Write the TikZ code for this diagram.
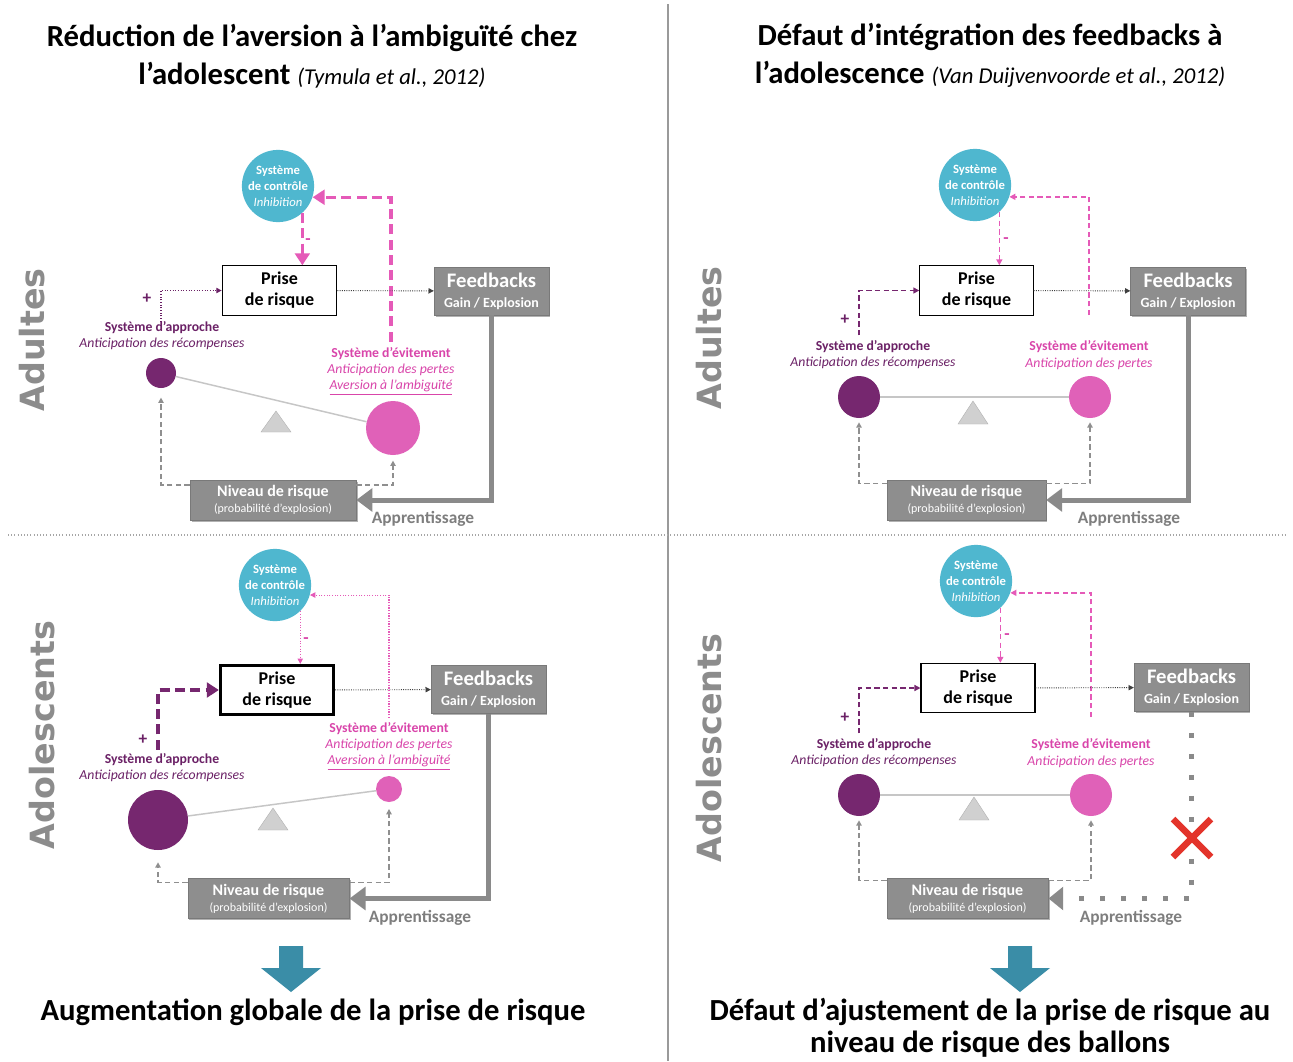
\documentclass[tikz,border=0pt]{standalone}
\usepackage{fontspec}
\setmainfont{Carlito}
\newfontfamily\sidefont{DejaVu Sans}
\usetikzlibrary{arrows.meta,shadows,calc}
\definecolor{ctrlblue}{HTML}{4FB7CF}
\definecolor{apprcol}{HTML}{76276F}
\definecolor{apprtext}{HTML}{6B2166}
\definecolor{avoidcol}{HTML}{E061B8}
\definecolor{avoidtext}{HTML}{D945AA}
\definecolor{pinkline}{HTML}{E55AB8}
\definecolor{boxgray}{HTML}{8E8E8E}
\definecolor{arrgray}{HTML}{8A8A8A}
\definecolor{labgray}{HTML}{7E7E7E}
\definecolor{sidegray}{HTML}{8C8C8C}
\definecolor{dashgray}{HTML}{8F8F8F}
\definecolor{triggray}{HTML}{D0D0D0}
\definecolor{beamgray}{HTML}{C6C6C6}
\definecolor{arrteal}{HTML}{3A8DA7}
\definecolor{xredcol}{HTML}{E3342B}
\definecolor{sepgray}{HTML}{9A9A9A}
\newcommand\mycite{\fontsize{17}{20}\selectfont\mdseries\itshape}
\begin{document}
\begin{tikzpicture}[x=0.75pt,y=-0.75pt,
  titlel/.style={inner sep=0pt, font=\fontsize{23}{27}\selectfont\bfseries},
  ctrlc/.style={circle, fill=ctrlblue, minimum size=49.5pt, inner sep=0pt, align=center, text=white, font=\fontsize{9.5}{12}\selectfont\bfseries},
  prisebox/.style={draw=black, line width=0.8pt, fill=white, minimum width=86pt, minimum height=37pt, inner sep=0pt, align=center, font=\fontsize{13.5}{15.75}\selectfont\bfseries},
  fbbox/.style={fill=boxgray, draw=boxgray!85!black, line width=0.5pt, minimum width=86pt, minimum height=36pt, inner sep=0pt, align=center, text=white, font=\fontsize{10.5}{15}\selectfont\bfseries, drop shadow={shadow xshift=1.2pt, shadow yshift=-1.2pt, opacity=0.3, fill=black}},
  nivbox/.style={fill=boxgray, draw=boxgray!85!black, line width=0.5pt, minimum height=30pt, inner sep=0pt, align=center, text=white, font=\fontsize{9}{12}\selectfont, drop shadow={shadow xshift=1.2pt, shadow yshift=-1.2pt, opacity=0.3, fill=black}},
  apprc/.style={circle, fill=apprcol, inner sep=0pt},
  avoidc/.style={circle, fill=avoidcol, inner sep=0pt},
  appl/.style={align=center, inner sep=0pt, text=apprtext, font=\fontsize{10.3}{12}\selectfont},
  avl/.style={align=center, inner sep=0pt, text=avoidtext, font=\fontsize{10.3}{12.3}\selectfont},
  plusl/.style={inner sep=0pt, font=\fontsize{13}{13}\selectfont\bfseries},
  learnl/.style={inner sep=0pt, text=labgray, font=\fontsize{13}{15}\selectfont\bfseries},
  sidel/.style={inner sep=0pt, rotate=90, text=sidegray, font=\sidefont\bfseries\fontsize{25}{30}\selectfont},
  beam/.style={draw=beamgray, line width=1.1pt},
  trig/.style={fill=triggray, draw=triggray!85!black, line width=0.3pt},
  purpdotted/.style={draw=apprtext, line width=0.8pt, dash pattern=on 0.8pt off 1.2pt, -{Triangle[length=4pt,width=4pt]}},
  purpthick/.style={draw=apprcol, line width=2.5pt, dash pattern=on 7.5pt off 4pt, -{Triangle[length=9pt,width=11pt]}},
  purpdash/.style={draw=apprcol, line width=1.1pt, dash pattern=on 4pt off 2.5pt, -{Triangle[length=4.5pt,width=4.5pt]}},
  pinkthick/.style={draw=pinkline, line width=2.5pt, dash pattern=on 7.5pt off 4pt, -{Triangle[length=9pt,width=11pt]}},
  pinkdash/.style={draw=pinkline, line width=1.1pt, dash pattern=on 4pt off 2.5pt, -{Triangle[length=4.5pt,width=4.5pt]}},
  pinkdotted/.style={draw=pinkline, line width=0.8pt, dash pattern=on 0.8pt off 1.2pt, -{Triangle[length=4pt,width=4pt]}},
  blackdot/.style={draw=black!75, line width=0.7pt, dash pattern=on 0.7pt off 1pt, -{Triangle[length=4pt,width=4pt]}},
  graydash/.style={draw=dashgray, line width=1pt, dash pattern=on 4pt off 2.5pt, -{Triangle[length=4pt,width=4pt]}},
  learnarr/.style={draw=arrgray, line width=3.75pt, -{Triangle[length=12pt,width=17pt]}},
  sqdots/.style={draw=arrgray, line width=3.75pt, dash pattern=on 3.75pt off 12pt, -{Triangle[length=11pt,width=17pt]}},
  xmark/.style={draw=xredcol, line width=5pt},
  downarr/.style={fill=arrteal}
]
\fill[white] (0,0) rectangle (1293,1061);
\useasboundingbox (0,0) rectangle (1293,1061);

% separators
\draw[sepgray, line width=2pt] (668,4) -- (668,1061);
\draw[black!35, line width=0.8pt, dash pattern=on 0.8pt off 1.6pt] (8,535) -- (1285,535);

% titles
\node[titlel] (tL1) at (312,38) {Réduction de l’aversion à l’ambiguïté chez};
\node[titlel] (tL2) at (312,75) {l’adolescent {\mycite (Tymula et al., 2012)}};
\node[titlel] (tR1) at (990,37) {Défaut d’intégration des feedbacks à};
\node[titlel] (tR2) at (990,74) {l’adolescence {\mycite (Van Duijvenvoorde et al., 2012)}};

% ================= Panel A (adultes, gauche) =================
\node[sidel] (aSide) at (32,340) {Adultes};
\fill[trig] (261,432) -- (276,411) -- (291,432) -- cycle;
\node[apprc, minimum size=22.5pt] (aApp) at (161,373) {};
\node[avoidc, minimum size=40.5pt] (aAv) at (393,428) {};
\draw[beam] (aApp) -- (aAv);
\node[ctrlc] (aCtrl) at (278,186) {Système\\de contrôle\\{\mdseries\itshape Inhibition}};
\node[prisebox] (aPrise) at (279.5,290.5) {Prise\\de risque};
\node[fbbox] (aFb) at (491.5,291) {{\fontsize{15.5}{16}\selectfont Feedbacks}\\Gain / Explosion};
\node[nivbox, minimum width=124.5pt] (aNiv) at (273,500) {{\fontsize{12}{12}\selectfont\bfseries Niveau de risque}\\(probabilité d’explosion)};
\node[appl] (aAppL) at (162,336) {\textbf{Système d’approche}\\\textit{Anticipation des récompenses}};
\node[avl] (aAvL) at (391,371) {\textbf{Système d’évitement}\\\textit{Anticipation des pertes}\\\textit{\underline{Aversion à l’ambiguïté}}};
\node[plusl, text=apprtext] (aPlus) at (147,299) {+};
\node[plusl, text=avoidtext] (aMinus) at (308,242) {-};
\node[learnl] (aLearn) at (423,519) {Apprentissage};
\draw[purpdotted] (aApp.north |- aAppL.north) |- (aPrise.west);
\draw[pinkthick] (aCtrl.-48) -- (aCtrl.-48 |- aPrise.north);
\draw[pinkthick] ([yshift=4pt]aAvL.north) |- (aCtrl.-18);
\draw[blackdot] (aPrise) -- (aFb);
\draw[learnarr] (aFb.south) |- (aNiv.east);
\draw[graydash] ([yshift=-4pt]aNiv.north west) -| ([yshift=-7pt]aApp.south);
\draw[graydash] ([yshift=-4pt]aNiv.north east) -| ([yshift=-4pt]aAv.south);

% ================= Panel B (adolescents, gauche) =================
\node[sidel] (bSide) at (42,735) {Adolescents};
\fill[trig] (258,830) -- (273,808) -- (288,830) -- cycle;
\node[apprc, minimum size=45pt] (bApp) at (158,820) {};
\node[avoidc, minimum size=19.5pt] (bAv) at (389,789) {};
\draw[beam] (bApp) -- (bAv);
\node[ctrlc] (bCtrl) at (275,585) {Système\\de contrôle\\{\mdseries\itshape Inhibition}};
\node[prisebox, line width=2.2pt, minimum width=85pt, minimum height=37pt] (bPrise) at (277,690) {Prise\\de risque};
\node[fbbox] (bFb) at (488.5,689.5) {{\fontsize{15.5}{16}\selectfont Feedbacks}\\Gain / Explosion};
\node[nivbox, minimum width=121pt] (bNiv) at (268.5,898.5) {{\fontsize{12}{12}\selectfont\bfseries Niveau de risque}\\(probabilité d’explosion)};
\node[appl] (bAppL) at (162,768) {\textbf{Système d’approche}\\\textit{Anticipation des récompenses}};
\node[avl] (bAvL) at (389,746) {\textbf{Système d’évitement}\\\textit{Anticipation des pertes}\\\textit{\underline{Aversion à l’ambiguïté}}};
\node[plusl, text=apprtext] (bPlus) at (143,740) {+};
\node[plusl, text=avoidtext] (bMinus) at (306,641) {-};
\node[learnl] (bLearn) at (420,918) {Apprentissage};
\draw[purpthick] ([yshift=3pt]bApp.north |- bAppL.north) |- (bPrise.west);
\draw[pinkdotted] (bCtrl.-46) -- (bCtrl.-46 |- bPrise.north);
\draw[pinkdotted] ([yshift=3pt]bAvL.north) |- (bCtrl.-16);
\draw[blackdot] (bPrise) -- (bFb);
\draw[learnarr] (bFb.south) |- (bNiv.east);
\draw[graydash] ([yshift=-3pt]bNiv.north west) -| ([yshift=-9pt]bApp.south);
\draw[graydash] ([yshift=-3pt]bNiv.north east) -| ([yshift=-5pt]bAv.south);

% ================= Panel C (adultes, droite) =================
\node[sidel] (cSide) at (709,338) {Adultes};
\fill[trig] (958,424) -- (973,401) -- (988,424) -- cycle;
\node[apprc, minimum size=31.5pt] (cApp) at (859,397) {};
\node[avoidc, minimum size=31.5pt] (cAv) at (1090,397) {};
\draw[beam] (cApp) -- (cAv);
\node[ctrlc] (cCtrl) at (975,185) {Système\\de contrôle\\{\mdseries\itshape Inhibition}};
\node[prisebox, minimum width=85pt] (cPrise) at (976.5,290.5) {Prise\\de risque};
\node[fbbox] (cFb) at (1188,291) {{\fontsize{15.5}{16}\selectfont Feedbacks}\\Gain / Explosion};
\node[nivbox, minimum width=119pt] (cNiv) at (966.5,500) {{\fontsize{12}{12}\selectfont\bfseries Niveau de risque}\\(probabilité d’explosion)};
\node[appl] (cAppL) at (873,355) {\textbf{Système d’approche}\\\textit{Anticipation des récompenses}};
\node[avl] (cAvL) at (1089,355) {\textbf{Système d’évitement}\\\textit{Anticipation des pertes}};
\node[plusl, text=apprtext] (cPlus) at (845,320) {+};
\node[plusl, text=avoidtext] (cMinus) at (1006,241) {-};
\node[learnl] (cLearn) at (1129,519) {Apprentissage};
\draw[purpdash] ([yshift=4pt]cApp.north |- cAppL.north) |- (cPrise.west);
\draw[pinkdash] (cCtrl.-48) -- (cCtrl.-48 |- cPrise.north);
\draw[pinkdash] ([yshift=19pt]cAvL.north) |- (cCtrl.-19);
\draw[blackdot] (cPrise) -- (cFb);
\draw[learnarr] (cFb.south) |- (cNiv.east);
\draw[graydash] ([yshift=-3pt]cNiv.north west) -| ([yshift=-3pt]cApp.south);
\draw[graydash] ([yshift=-3pt]cNiv.north east) -| ([yshift=-3pt]cAv.south);

% ================= Panel D (adolescents, droite) =================
\node[sidel] (dSide) at (709,748) {Adolescents};
\fill[trig] (959,820) -- (974,797) -- (989,820) -- cycle;
\node[apprc, minimum size=31.5pt] (dApp) at (859,795) {};
\node[avoidc, minimum size=31.5pt] (dAv) at (1091,795) {};
\draw[beam] (dApp) -- (dAv);
\node[ctrlc] (dCtrl) at (976,581) {Système\\de contrôle\\{\mdseries\itshape Inhibition}};
\node[prisebox, minimum width=85.5pt] (dPrise) at (978,688) {Prise\\de risque};
\node[fbbox] (dFb) at (1191.5,687.5) {{\fontsize{15.5}{16}\selectfont Feedbacks}\\Gain / Explosion};
\node[nivbox, minimum width=121pt] (dNiv) at (967.5,898.5) {{\fontsize{12}{12}\selectfont\bfseries Niveau de risque}\\(probabilité d’explosion)};
\node[appl] (dAppL) at (874,753) {\textbf{Système d’approche}\\\textit{Anticipation des récompenses}};
\node[avl] (dAvL) at (1091,753) {\textbf{Système d’évitement}\\\textit{Anticipation des pertes}};
\node[plusl, text=apprtext] (dPlus) at (845,718) {+};
\node[plusl, text=avoidtext] (dMinus) at (1007,637) {-};
\node[learnl] (dLearn) at (1131,918) {Apprentissage};
\draw[purpdash] ([yshift=4pt]dApp.north |- dAppL.north) |- (dPrise.west);
\draw[pinkdash] (dCtrl.-48) -- (dCtrl.-48 |- dPrise.north);
\draw[pinkdash] ([yshift=16pt]dAvL.north) |- (dCtrl.-19);
\draw[blackdot] (dPrise) -- (dFb);
\draw[sqdots] (dFb.south) |- (dNiv.east);
\draw[graydash] ([yshift=-1.5pt]dNiv.north west) -| ([yshift=-3pt]dApp.south);
\draw[graydash] ([yshift=-1.5pt]dNiv.north east) -| ([yshift=-3pt]dAv.south);
\draw[xmark] (1173,819) -- (1211,857);
\draw[xmark] (1211,819) -- (1173,857);

% bottom conclusions
\fill[downarr] (279,946) -- (303,946) -- (303,968) -- (321,968) -- (291,992) -- (261,968) -- (279,968) -- cycle;
\fill[downarr] (1008,946) -- (1032,946) -- (1032,968) -- (1050,968) -- (1020,992) -- (990,968) -- (1008,968) -- cycle;
\node[titlel] (bL) at (313,1012) {Augmentation globale de la prise de risque};
\node[titlel] (bR1) at (990,1012) {Défaut d’ajustement de la prise de risque au};
\node[titlel] (bR2) at (990,1044) {niveau de risque des ballons};
\end{tikzpicture}
\end{document}
